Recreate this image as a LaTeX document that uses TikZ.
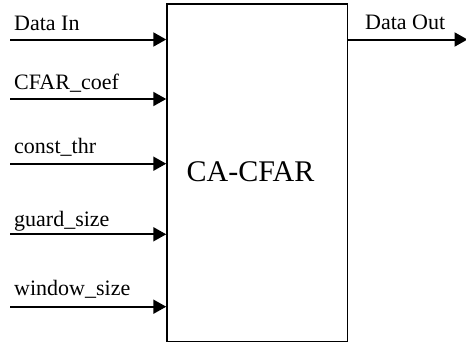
\documentclass[tikz,border=0pt]{standalone}
\usepackage{fontspec}
\setmainfont{Liberation Serif}
\usetikzlibrary{arrows.meta}
\begin{document}
\begin{tikzpicture}[x=1pt,y=-1pt,
  blockbox/.style={draw,line width=1.5pt,minimum width=180.5pt,minimum height=337.5pt,inner sep=0pt},
  sig/.style={line width=2pt,-{Triangle[length=13pt,width=14pt]}},
  siglabel/.style={anchor=base west,inner sep=0pt,font=\fontsize{22}{26}\selectfont},
  blocklabel/.style={anchor=base,inner sep=0pt,font=\fontsize{30}{36}\selectfont}]
\useasboundingbox (0,0) rectangle (466,343);
% main processing block
\node[blockbox] (cfar) at (257.25,172.75) {};
\node[blocklabel] (name) at (250.5,181.7) {CA-CFAR};
% input ports
\coordinate (in1) at (10,39.5);
\coordinate (in2) at (10,99);
\coordinate (in3) at (10,163.7);
\coordinate (in4) at (10,234.3);
\coordinate (in5) at (10,306.7);
\draw[sig] (in1) -- (in1 -| cfar.west);
\draw[sig] (in2) -- (in2 -| cfar.west);
\draw[sig] (in3) -- (in3 -| cfar.west);
\draw[sig] (in4) -- (in4 -| cfar.west);
\draw[sig] (in5) -- (in5 -| cfar.west);
\node[siglabel] (l1) at (14,30) {Data In};
\node[siglabel] (l2) at (14,89.3) {CFAR\_coef};
\node[siglabel] (l3) at (14,153.3) {const\_thr};
\node[siglabel] (l4) at (14,226) {guard\_size};
\node[siglabel] (l5) at (14,295) {window\_size};
% output port
\coordinate (out) at (467.5,39.5);
\draw[sig] (out -| cfar.east) -- (out);
\node[siglabel] (lo) at (365,29.3) {Data Out};
\end{tikzpicture}
\end{document}
